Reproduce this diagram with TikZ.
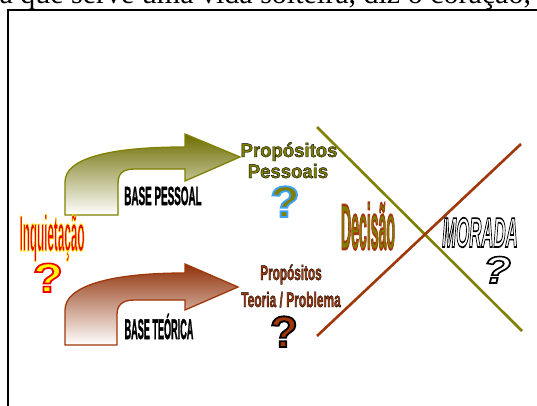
\documentclass[tikz,border=0pt]{standalone}
\usepackage{fontspec}
\setmainfont{Liberation Serif}
% stroked (outlined) sans faces of increasing weight
\newfontfamily\strokeA[FakeBold=2]{Liberation Sans}
\newfontfamily\strokeB[FakeBold=4]{Liberation Sans}
\usepackage{graphicx}

% horizontal / vertical stretch of a word
\newcommand\squash[3]{\scalebox{#1}[#2]{#3}}
% outline colour used by the stroked faces
\newcommand\outline[3]{\special{pdf:code #1 #2 #3 RG}}

\definecolor{olivec}{RGB}{128,128,0}
\definecolor{brownc}{RGB}{160,55,10}
\definecolor{redc}{RGB}{240,0,0}
\definecolor{yellowc}{RGB}{255,255,0}

\tikzset{
  frame/.style={line width=2pt, line join=miter},
  bend arrow/.style={line width=1.3pt, line join=miter},
  cross line/.style={line width=2.6pt},
  word/.style={anchor=base, inner sep=0pt, outer sep=0pt},
}

\begin{document}
\begin{tikzpicture}[x=1pt, y=-1pt]
\useasboundingbox (0,0) rectangle (537,406);
\clip (0,0) rectangle (537,406);

% running text above the frame
\node[anchor=base west, inner sep=0pt, font=\fontsize{30}{30}\selectfont] (head) at (-9,4)
  {ıa que serve uma vida solteira, diz o coração,};

% frame
\draw[frame] (8,412) -- (8,10) -- (545,10);

% bent arrows
\draw[bend arrow, draw=olivec, top color=olivec!85!black, bottom color=white]
  (65,215) -- (65,182) .. controls (65,158) and (110,147) .. (185,147)
  -- (185,134) -- (240,157) -- (185,181) -- (185,169) -- (135,169)
  .. controls (122,169) and (118,174) .. (118,184) -- (118,215) -- cycle;
\draw[bend arrow, draw=brownc, top color=brownc!90!black, bottom color=white]
  (65,345) -- (65,310) .. controls (65,286) and (110,273) .. (185,273)
  -- (185,264) -- (238,287) -- (185,310) -- (185,300) -- (135,300)
  .. controls (122,300) and (117,305) .. (117,315) -- (117,345) -- cycle;

% crossing lines
\coordinate (oA) at (317,127);
\coordinate (oB) at (522,331);
\coordinate (bA) at (317,336);
\coordinate (bB) at (521,144);
\draw[cross line, olivec] (oA) -- (oB);
\draw[cross line, brownc] (bA) -- (bB);

% arrow labels
\node[word, font=\strokeA\bfseries\fontsize{21}{21}\selectfont] (bp) at (163,205)
  {\squash{0.47}{1.25}{BASE PESSOAL}};
\node[word, font=\strokeA\bfseries\fontsize{26}{26}\selectfont] (bt) at (159,339)
  {\squash{0.35}{1.1}{BASE TEÓRICA}};

% Inquietação
\node[word, text=redc, font=\strokeA\bfseries\fontsize{39}{39}\selectfont] (inq) at (52,251)
  {\outline{1}{1}{0}\squash{0.3}{1.3}{Inquietação}};
\node[word, text=yellowc, font=\strokeB\bfseries\fontsize{41}{41}\selectfont] (inqq) at (48,292)
  {\outline{0.94}{0}{0}\squash{1.2}{1}{?}};

% Propósitos Pessoais
\node[word, text=olivec, font=\strokeA\bfseries\fontsize{19.5}{19.5}\selectfont] (pp1) at (289,157)
  {\outline{0}{0}{0}\squash{0.95}{1}{Propósitos}};
\node[word, text=olivec, font=\strokeA\bfseries\fontsize{19.5}{19.5}\selectfont] (pp2) at (288,178)
  {\outline{0}{0}{0}\squash{0.95}{1}{Pessoais}};
\node[word, text=olivec, font=\strokeB\bfseries\fontsize{44}{44}\selectfont] (ppq) at (285,217)
  {\outline{0.24}{0.63}{1}\squash{1.1}{1}{?}};

% Propósitos Teoria / Problema
\node[word, text=brownc, font=\strokeA\bfseries\fontsize{21}{21}\selectfont] (pt1) at (291,280)
  {\outline{0}{0}{0}\squash{0.56}{1}{Propósitos}};
\node[word, text=brownc, font=\strokeA\bfseries\fontsize{21}{21}\selectfont] (pt2) at (291,307)
  {\outline{0}{0}{0}\squash{0.57}{1}{Teoria / Problema}};
\node[word, text=brownc, font=\strokeB\bfseries\fontsize{44}{44}\selectfont] (ptq) at (284,347)
  {\outline{0}{0}{0}\squash{1.04}{1}{?}};

% Decisão
\node[word, text=olivec, font=\strokeB\bfseries\fontsize{64}{64}\selectfont] (dec) at (368,249)
  {\outline{0.63}{0.22}{0.04}\squash{0.22}{1}{Decisão}};

% MORADA
\node[word, text=white, font=\strokeB\bfseries\itshape\fontsize{42}{42}\selectfont] (mor) at (480,247)
  {\outline{0}{0}{0}\squash{0.4}{1}{MORADA}};
\node[word, text=white, font=\strokeB\bfseries\itshape\fontsize{38}{38}\selectfont] (morq) at (497,283)
  {\outline{0}{0}{0}\squash{1.2}{1}{?}};
\end{tikzpicture}
\end{document}
